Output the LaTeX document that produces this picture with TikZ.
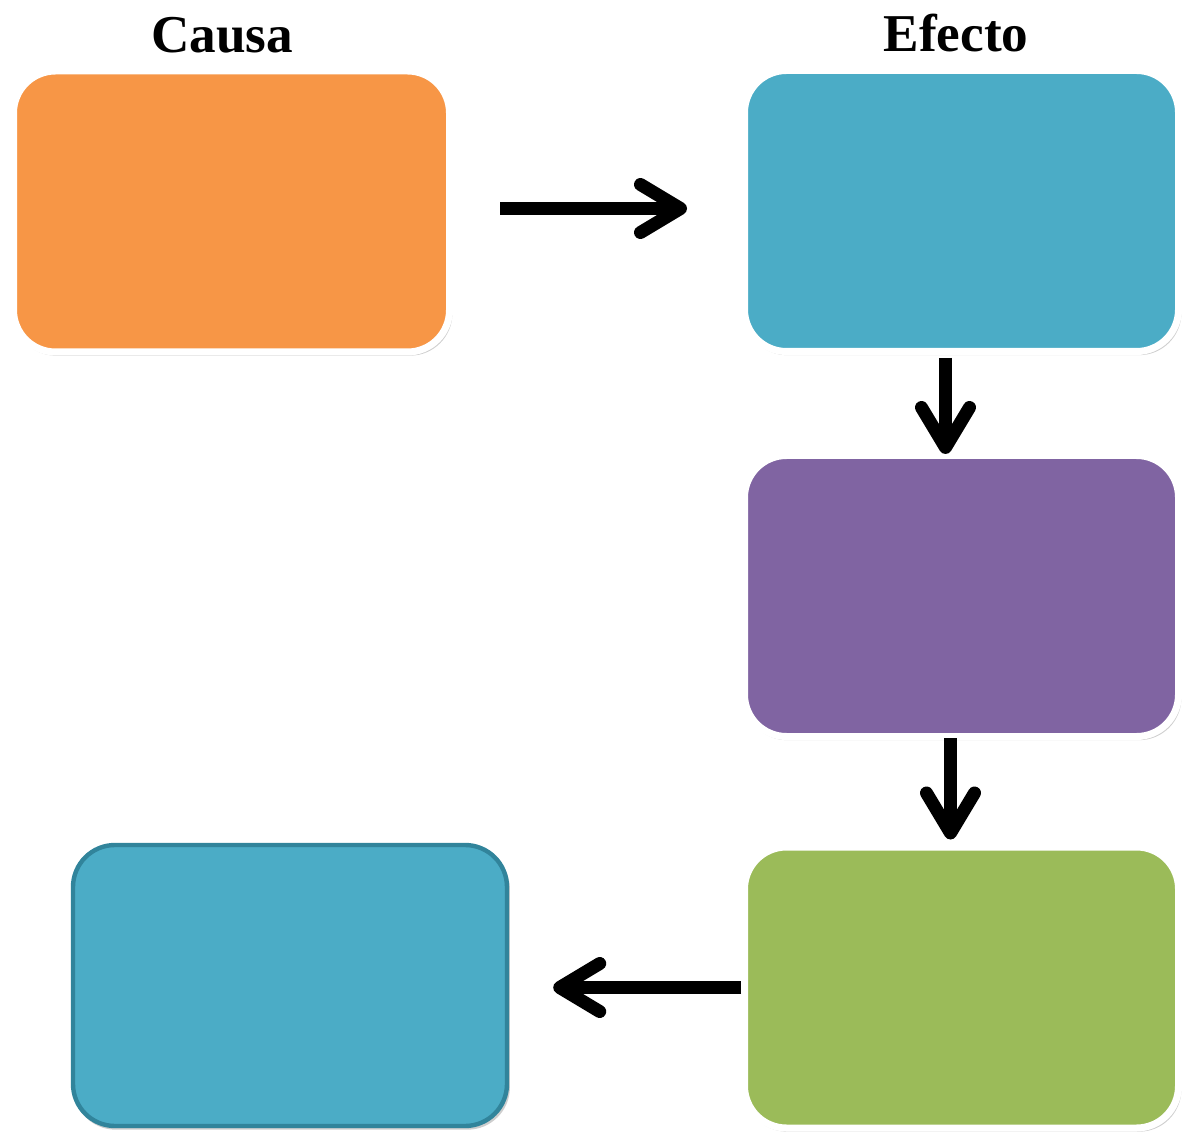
\documentclass[tikz,border=0pt]{standalone}
\usepackage{fontspec}
\setmainfont{Liberation Serif}
\usetikzlibrary{positioning,arrows.meta,shadows}
\definecolor{naranja}{HTML}{F79646}
\definecolor{turquesa}{HTML}{4BACC6}
\definecolor{morado}{HTML}{8064A2}
\definecolor{verde}{HTML}{9BBB59}
\definecolor{borde}{HTML}{31849B}
\tikzset{
  caja/.style={rectangle, rounded corners=21pt, draw=white, line width=3.5pt,
    minimum width=217pt, minimum height=140.5pt, inner sep=0pt,
    drop shadow={shadow xshift=0.8pt, shadow yshift=-1.4pt, shadow scale=1.006,
      opacity=.35, fill=black!55}},
  flecha/.style={line width=6.5pt, -{Straight Barb[length=20pt, width=24pt, round]}},
  titulo/.style={font=\fontsize{26.6}{30}\selectfont\bfseries}
}
\begin{document}
\begin{tikzpicture}[x=0.5pt,y=-0.5pt]
  \useasboundingbox (0,0) rectangle (1182,1133);
  % titles
  \node[titulo] (tcausa) at (222,35) {Causa};
  \node[titulo] (tefecto) at (956,33) {Efecto};
  % boxes
  \node[caja, fill=naranja, minimum width=218pt] (causa) at (231.5,211.5) {};
  \node[caja, fill=turquesa] (efecto) at (961.5,211) {};
  \node[caja, fill=morado] (B) at (961.5,596) {};
  \node[caja, fill=verde] (C) at (961.5,987.5) {};
  \node[caja, fill=turquesa, draw=borde, line width=2.2pt, drop shadow={opacity=0},
    minimum width=217pt, minimum height=140.5pt] (D) at (290,985.5) {};
  % arrows
  \draw[flecha, shorten <=23.5pt, shorten >=27pt] ([yshift=1.5pt]causa.east) -- ([yshift=1.5pt]causa.east -| efecto.west);
  \draw[flecha, shorten <=1.5pt, shorten >=-1pt] ([xshift=-8pt]efecto.south) -- ([xshift=-8pt]B.north);
  \draw[flecha, shorten <=-1pt, shorten >=2pt] ([xshift=-5.5pt]B.south) -- ([xshift=-5.5pt]C.north);
  \draw[flecha, shorten <=0pt, shorten >=22pt] (C.west) -- (C.west -| D.east);
\end{tikzpicture}
\end{document}
